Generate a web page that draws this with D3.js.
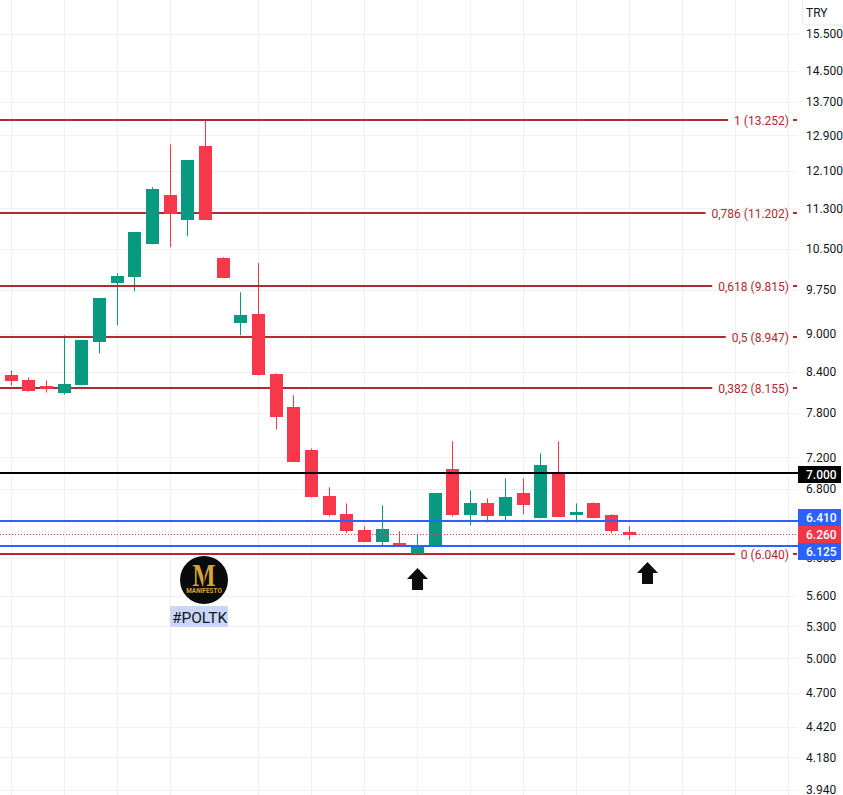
<!DOCTYPE html>
<html>
<head>
<meta charset="utf-8">
<script src="https://cdn.jsdelivr.net/npm/d3@7"></script>
<style>
html,body{margin:0;padding:0;background:#fff;overflow:hidden}
svg{display:block;font-family:Roboto,"Liberation Sans",sans-serif}
</style>
</head>
<body>
<svg id="chart" width="843" height="795"></svg>
<script>
const opens  = [8.349,8.274,8.185,8.082,8.200,8.866,9.868,9.976,10.590,11.573,11.060,12.653,10.325,9.177,9.328,8.365,7.882,7.291,6.708,6.493,6.307,6.171,6.160,6.040,6.125,7.044,6.481,6.622,6.469,6.743,6.445,6.994,6.481,6.622,6.481,6.284];
const highs  = [8.425,8.319,8.274,8.979,8.899,9.604,10.050,10.823,11.742,12.690,12.330,13.260,10.344,9.709,10.233,8.381,8.055,7.315,6.818,6.622,6.352,6.599,6.295,6.260,6.743,7.412,6.780,6.683,6.929,6.929,7.252,7.412,6.622,6.635,6.493,6.352];
const lows   = [8.200,8.111,8.096,8.067,8.200,8.691,9.144,9.727,10.590,10.533,10.745,11.060,9.958,8.980,8.349,7.571,7.134,6.696,6.469,6.273,6.171,6.138,6.125,6.040,6.125,6.469,6.364,6.398,6.422,6.493,6.445,6.457,6.398,6.445,6.273,6.195];
const closes = [8.260,8.125,8.144,8.215,8.899,9.604,9.995,10.823,11.700,11.180,12.330,11.060,9.958,9.311,8.349,7.738,7.134,6.696,6.481,6.295,6.171,6.318,6.125,6.125,6.743,6.481,6.622,6.469,6.696,6.599,7.096,6.457,6.516,6.445,6.295,6.250];
const priceTicks = [15.5,14.5,13.7,12.9,12.1,11.3,10.5,9.75,9.0,8.4,7.8,7.2,6.8,6.0,5.6,5.3,5.0,4.7,4.42,4.18,3.94];
const timeGrid = [0,3,6,9,14,17,20,23,26,29,32,35,38,41,44];
const fibLevels = ["1","0,786","0,618","0,5","0,382","0"];
const fibPrices = [13.252,11.202,9.815,8.947,8.155,6.04];
const lineTags = ["7.000","6.410","6.260","6.125"];
const linePrices = [7.0,6.41,6.26,6.125];
const lineColors = ["#000000","#2962ff","#f23645","#2962ff"];
const tagTops = [466,509,526,543];
const arrowBars = [23,36];

const svg = d3.select("#chart");
const y = d3.scaleLog().domain([3.94,15.5]).range([790,34]);
const x = d3.scaleLinear().domain([0,35]).range([11.3,629.2]);
const plotRight = 798, bodyW = 13;
const GREEN = "#089981", RED = "#f7374a", FIB = "#b22833";
const crisp = v => Math.round(v);

// grid
svg.append("g").selectAll("line").data(priceTicks).join("line")
  .attr("x1",0).attr("x2",plotRight)
  .attr("y1",d=>crisp(y(d))+.5).attr("y2",d=>crisp(y(d))+.5)
  .attr("stroke","#f0f1f3");
svg.append("g").selectAll("line").data(timeGrid).join("line")
  .attr("x1",d=>Math.floor(x(d))+.5).attr("x2",d=>Math.floor(x(d))+.5)
  .attr("y1",0).attr("y2",795)
  .attr("stroke","#f0f1f3");

// price axis
const axis = d3.axisRight(y).tickValues(priceTicks).tickFormat(d3.format(".3f")).tickSize(0).tickPadding(0);
const axG = svg.append("g").attr("transform","translate(806,0)").call(axis);
axG.select(".domain").remove();
axG.selectAll("text").attr("fill","#131722").attr("font-size",12).attr("font-family","Roboto");

// candles
const idx = d3.range(opens.length);
const isUp = i => closes[i] >= opens[i];
svg.append("g").selectAll("line").data(idx).join("line")
  .attr("x1",i=>Math.floor(x(i))+.5).attr("x2",i=>Math.floor(x(i))+.5)
  .attr("y1",i=>y(highs[i])).attr("y2",i=>y(lows[i]))
  .attr("stroke",i=>isUp(i)?GREEN:RED).attr("stroke-width",1);

// fib lines
const fibG = svg.append("g").selectAll("g").data(fibLevels).join("g");
fibG.each(function(lv,i){
  const g = d3.select(this), py = crisp(y(fibPrices[i]));
  const t = g.append("text").attr("x",789).attr("y",py+4.5).attr("text-anchor","end")
    .attr("font-size",12).attr("fill",FIB).attr("font-family","Roboto")
    .text(`${lv} (${d3.format(".3f")(fibPrices[i])})`);
  const w = t.node().getComputedTextLength();
  g.append("line").attr("x1",0).attr("x2",789-w-6).attr("y1",py).attr("y2",py).attr("stroke",FIB).attr("stroke-width",2);
  g.append("line").attr("x1",793).attr("x2",797).attr("y1",py).attr("y2",py).attr("stroke",FIB).attr("stroke-width",2);
});

// candle bodies over lines
svg.append("g").selectAll("rect").data(idx).join("rect")
  .attr("x",i=>Math.floor(x(i))+.5-bodyW/2)
  .attr("width",bodyW)
  .attr("y",i=>Math.round(y(Math.max(opens[i],closes[i]))))
  .attr("height",i=>Math.max(1,Math.round(y(Math.min(opens[i],closes[i])))-Math.round(y(Math.max(opens[i],closes[i])))))
  .attr("fill",i=>isUp(i)?GREEN:RED);

// horizontal price lines
lineTags.forEach((tag,i)=>{
  const py = crisp(y(linePrices[i]));
  const l = svg.append("line").attr("x1",0).attr("x2",plotRight).attr("y1",py).attr("y2",py)
    .attr("stroke",lineColors[i]).attr("stroke-width",2);
  if(tag==="6.260") l.attr("stroke-width",1).attr("stroke-dasharray","1 2").attr("y1",py+.5).attr("y2",py+.5);
});

// price tags
lineTags.forEach((tag,i)=>{
  const g = svg.append("g");
  g.append("rect").attr("x",798).attr("width",43).attr("y",tagTops[i]).attr("height",17)
    .attr("fill",lineColors[i]);
  g.append("text").attr("x",806).attr("y",tagTops[i]+13).attr("fill","#fff")
    .attr("font-size",12).attr("font-weight",500).text(tag);
});

// currency button
svg.append("rect").attr("x",802.5).attr("y",-4).attr("width",50).attr("height",29).attr("rx",4)
  .attr("fill","#fff").attr("stroke","#e6e8ec");
svg.append("text").attr("x",806).attr("y",17).attr("font-size",12).attr("fill","#131722").text("TRY");

// arrows
const arrow = "M0,0L10.5,11L5.5,11L5.5,22L-5.5,22L-5.5,11L-10.5,11Z";
svg.append("g").selectAll("path").data(arrowBars).join("path")
  .attr("d",arrow)
  .attr("transform",(d,i)=>`translate(${i?647.5:417.5},${i?562:568})`)
  .attr("fill","#0d0d0d");

// logo
const logo = svg.append("g").attr("transform","translate(204,580)");
logo.append("circle").attr("r",24).attr("fill","#0a0a0a");
logo.append("text").attr("x",-11.5).attr("y",6).attr("textLength",23).attr("lengthAdjust","spacingAndGlyphs")
  .attr("font-family","Liberation Serif").attr("font-weight",700).attr("font-size",32).attr("fill","#d8a62e").text("M");
logo.append("line").attr("x1",0).attr("x2",0).attr("y1",-6).attr("y2",5).attr("stroke","#0a0a0a").attr("stroke-width",1.2);
logo.append("text").attr("y",12.5).attr("text-anchor","middle").attr("font-family","Roboto")
  .attr("font-weight",700).attr("font-size",6.4).attr("fill","#d8a62e").text("MANIFESTO");
svg.append("rect").attr("x",170).attr("y",606).attr("width",58).attr("height",21).attr("fill","#c9d8f9");
svg.append("text").attr("x",199.5).attr("y",622.5).attr("text-anchor","middle").attr("font-size",15.5).attr("fill","#131722").text("#POLTK");
</script>
</body>
</html>
